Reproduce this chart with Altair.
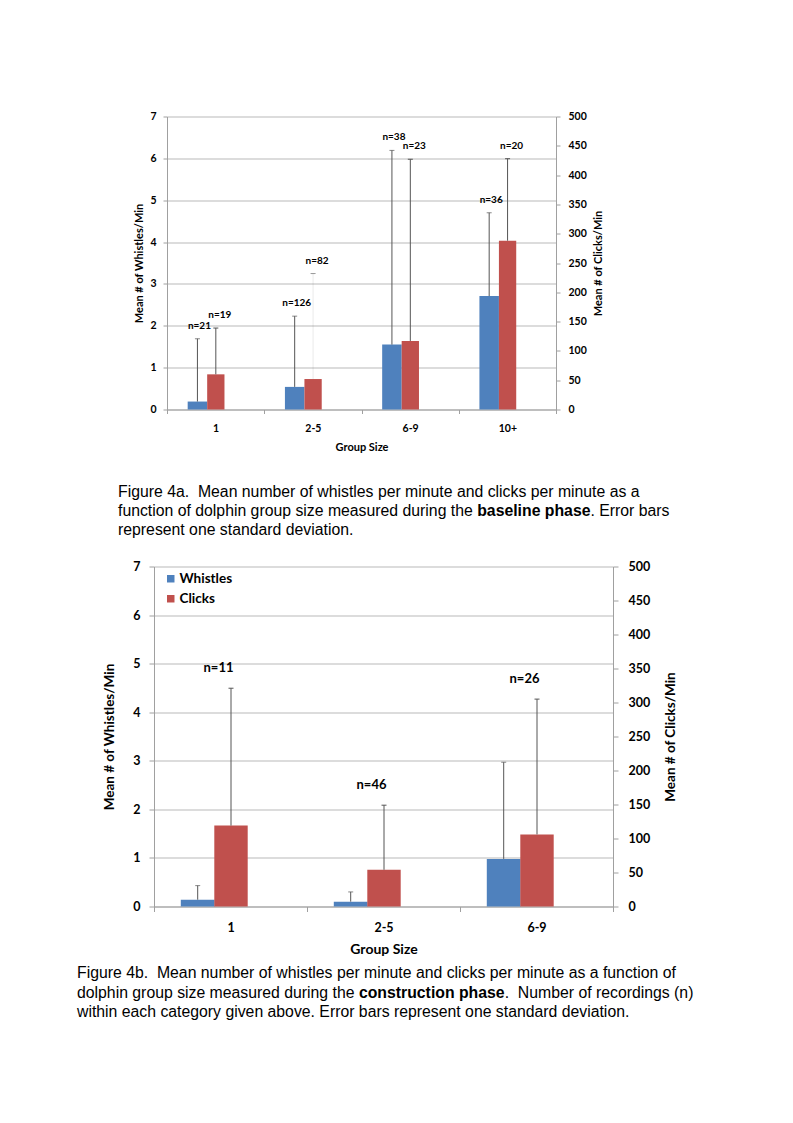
import altair as alt
import pandas as pd

# ---------------- data ----------------
groups_a = ["1", "2-5", "6-9", "10+"]
whistles_a = [0.19, 0.54, 1.55, 2.71]
whistles_sd_a = [1.50, 1.69, 4.64, 1.99]
clicks_a = [60, 52, 117, 288]
clicks_sd_a = [79, 180, 310, 140]
n_whistles_a = [21, 126, 38, 36]
n_clicks_a = [19, 82, 23, 20]

groups_b = ["1", "2-5", "6-9"]
whistles_b = [0.14, 0.10, 0.98]
whistles_sd_b = [0.29, 0.20, 1.99]
clicks_b = [119, 54, 106]
clicks_sd_b = [202, 95, 199]
n_b = [11, 46, 26]

series_names = ["Whistles", "Clicks"]
series_colors = ["#4f81bd", "#c0504d"]
whistle_ticks = [0, 1, 2, 3, 4, 5, 6, 7]
click_ticks = [0, 50, 100, 150, 200, 250, 300, 350, 400, 450, 500]

caption_a = [
    ["Figure 4a.\u00a0 Mean number of whistles per minute and clicks per minute as a"],
    ["function of dolphin group size measured during the", "baseline phase", ". Error bars"],
    ["represent one standard deviation."],
]
caption_b = [
    ["Figure 4b.\u00a0 Mean number of whistles per minute and clicks per minute as a function of"],
    ["dolphin group size measured during the", "construction phase", ".\u00a0 Number of recordings (n)"],
    ["within each category given above. Error bars represent one standard deviation."],
]

# ---------------- helpers ----------------
ARIAL = {" ": 278, "\u00a0": 278, "a": 556, "b": 556, "c": 500, "d": 556, "e": 556, "f": 278,
         "g": 556, "h": 556, "i": 222, "k": 500, "l": 222, "m": 833, "n": 556, "o": 556,
         "p": 556, "r": 333, "s": 500, "t": 278, "u": 556, "w": 722, "y": 500, "z": 500, ".": 278}
ARIAL_B = {" ": 278, "a": 556, "b": 611, "c": 556, "e": 556, "h": 611, "i": 278, "l": 278,
           "n": 611, "o": 611, "p": 611, "r": 389, "s": 556, "t": 333, "u": 611}
CAP_FS = 15.8


def text_width(s, bold):
    table = ARIAL_B if bold else ARIAL
    return sum(table.get(ch, 556) for ch in s) * CAP_FS / 1000.0


def caption_layers(lines, x0, y0, step):
    layers = []
    for i, segs in enumerate(lines):
        x = x0
        for j, seg in enumerate(segs):
            bold = (len(segs) == 3 and j == 1)
            layers.append(
                alt.Chart(pd.DataFrame({"t": [seg]}))
                .mark_text(align="left", baseline="middle", font="Liberation Sans",
                           fontSize=CAP_FS, fontWeight="bold" if bold else "normal", color="black")
                .encode(text="t:N", x=alt.value(x), y=alt.value(y0 + i * step))
            )
            x += text_width(seg, bold)
            if len(segs) == 3 and j == 0:
                x += text_width(" ", False)
    return layers


ERR = "#555555"
GRID = "#b9b9b9"
AXIS = "#a0a0a0"


def panel(groups, w, wsd, c, csd, P):
    df = pd.DataFrame({
        "group": groups,
        "w": w,
        "wtop": [m + s for m, s in zip(w, wsd)],
        "c": c,
        "ctop": [m + s for m, s in zip(c, csd)],
        "nw": P["nw"],
        "nc": P["nc"],
    })
    base = alt.Chart(df)

    xdef = alt.X(
        "group:N", sort=groups,
        scale=alt.Scale(range=[P["gutter"], P["width"]], paddingInner=0, paddingOuter=0),
        axis=alt.Axis(title="Group Size", tickBand="extent", tickSize=P["tick"], tickColor=AXIS,
                      domainColor=AXIS, labelPadding=P["xlabpad"], labelFontSize=P["lab"],
                      labelAngle=0, grid=False, titleFontSize=P["xtitle"], titleY=P["xtitleY"],
                      titleBaseline="middle"),
    )

    def yw(f):
        return alt.Y(f, scale=alt.Scale(domain=[0, 7], nice=False),
                     axis=alt.Axis(values=whistle_ticks, offset=-P["gutter"], tickSize=P["tick"],
                                   labelPadding=P["ylabpad"], labelFontSize=P["lab"], labelFlush=False,
                                   grid=True, gridColor=GRID, domainColor=AXIS, tickColor=AXIS,
                                   title="Mean # of Whistles/Min", titleFontSize=P["ytitle"],
                                   titleX=P["ltitleX"], titleAngle=270, titleBaseline="middle"))

    def yc(f):
        return alt.Y(f, scale=alt.Scale(domain=[0, 500], nice=False),
                     axis=alt.Axis(values=click_ticks, orient="right", tickSize=P["tick"],
                                   labelPadding=P["rlabpad"], labelFontSize=P["lab"], labelFlush=False,
                                   grid=False, domainColor=AXIS, tickColor=AXIS,
                                   title="Mean # of Clicks/Min", titleFontSize=P["ytitle"],
                                   titleX=P["rtitleX"], titleAngle=270, titleBaseline="middle"))

    color = alt.Color("series:N", scale=alt.Scale(domain=series_names, range=series_colors),
                      legend=P["legend"])

    wbar = base.transform_calculate(series="'Whistles'").mark_bar(
        width=P["bw"], xOffset=P["bo"]).encode(x=xdef, y=yw("w:Q"), color=color)
    wrule = base.mark_rule(color=ERR, strokeWidth=1, xOffset=P["bo"]).encode(
        x=xdef, y=yw("w:Q"), y2="wtop:Q")
    wcap = base.mark_tick(color=ERR, thickness=1, size=5, xOffset=P["bo"]).encode(
        x=xdef, y=yw("wtop:Q"))

    cbar = base.transform_calculate(series="'Clicks'").mark_bar(
        width=P["rw"], xOffset=P["ro"]).encode(x=xdef, y=yc("c:Q"), color=color)
    crule = base.mark_rule(color=ERR, strokeWidth=1, xOffset=P["ro"]).encode(
        x=xdef, y=yc("c:Q"), y2="ctop:Q",
        opacity=alt.condition(alt.datum.group == P["faint"], alt.value(0.12), alt.value(1)))
    ccap = base.mark_tick(color=ERR, thickness=1, size=5, xOffset=P["ro"]).encode(
        x=xdef, y=yc("ctop:Q"),
        opacity=alt.condition(alt.datum.group == P["faint"], alt.value(0.6), alt.value(1)))

    wl = [wbar, wrule, wcap]
    cl = [cbar, crule, ccap]
    if P["nw"][0]:
        wl.append(base.mark_text(font="Lato", fontWeight="bold", fontSize=P["nfs"], color="black",
                                 dx=P["bo"] + 2, dy=-13).encode(x=xdef, y=yw("wtop:Q"), text="nw:N"))
    cl.append(base.mark_text(font="Lato", fontWeight="bold", fontSize=P["nfs"], color="black",
                             dx=P["ndx"], dy=P["ndy"]).encode(x=xdef, y=yc("ctop:Q"), text="nc:N"))

    whistles = alt.layer(*wl)
    clicks = alt.layer(*cl)
    caps = caption_layers(P["caption"], P["capx"], P["capy"], P["capstep"])
    return alt.layer(whistles, clicks, *caps).resolve_scale(y="independent").properties(
        width=P["width"], height=P["height"])


PA = dict(
    gutter=13, width=402, height=293, tick=4, xlabpad=9.5, ylabpad=7, rlabpad=8,
    lab=10.5, xtitle=11, xtitleY=38.4, ytitle=11, ltitleX=-28, rtitleX=42,
    bw=19.5, bo=-18.2, rw=17.3, ro=0.2, nfs=10, ndx=4.2, ndy=-13, faint="2-5",
    legend=None,
    nw=[f"n={n}" for n in n_whistles_a], nc=[f"n={n}" for n in n_clicks_a],
    caption=caption_a, capx=-36, capy=375, capstep=19,
)

PB = dict(
    gutter=0, width=459, height=340, tick=5, xlabpad=10, ylabpad=9, rlabpad=10,
    lab=12.5, xtitle=14, xtitleY=43.3, ytitle=13.5, ltitleX=-45, rtitleX=57,
    bw=33.8, bo=-32.8, rw=33.4, ro=0.5, nfs=13, ndx=-12, ndy=-20, faint="none",
    legend=alt.Legend(title=None, orient="none", legendX=10, legendY=5.5, symbolType="square",
                      symbolSize=56, symbolStrokeWidth=0, labelFont="Lato", labelFontSize=13.5,
                      labelFontWeight="bold", labelColor="black", labelOffset=2, rowPadding=5,
                      padding=0),
    nw=["", "", ""], nc=[f"n={n}" for n in n_b],
    caption=caption_b, capx=-77, capy=406.5, capstep=19.5,
)

chart_a = panel(groups_a, whistles_a, whistles_sd_a, clicks_a, clicks_sd_a, PA)
chart_b = panel(groups_b, whistles_b, whistles_sd_b, clicks_b, clicks_sd_b, PB)

chart = (
    alt.vconcat(chart_a, chart_b, spacing=21)
    .resolve_scale(color="independent")
    .properties(padding={"left": 68, "top": 102.5, "right": 5, "bottom": 5})
    .configure_axis(labelFont="Lato", titleFont="Lato", labelColor="black", titleColor="black",
                    labelFontWeight="bold", titleFontWeight="bold", domainWidth=1, gridWidth=1)
    .configure_view(stroke="transparent")
)

chart.save("out.html", embed_options={"renderer": "svg", "actions": False})
